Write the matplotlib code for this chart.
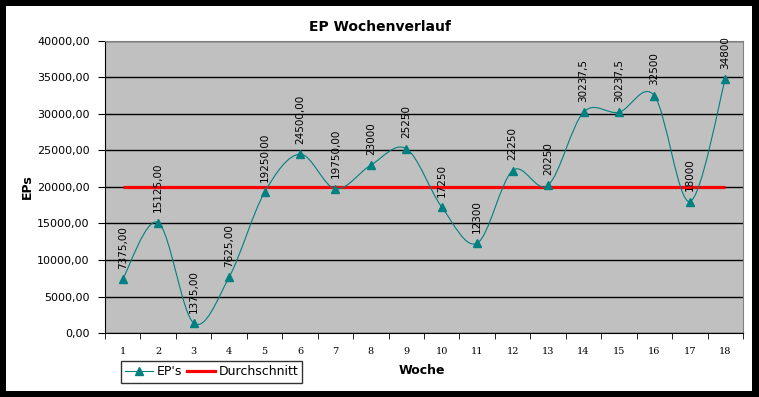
import matplotlib.pyplot as plt
import numpy as np
from matplotlib.patches import Rectangle
from matplotlib.path import Path
from matplotlib.patches import PathPatch
from matplotlib.ticker import FuncFormatter, MultipleLocator

# Daten
wochen = list(range(1, 19))
eps = [7375, 15125, 1375, 7625, 19250, 24500, 19750, 23000, 25250,
       17250, 12300, 22250, 20250, 30237.5, 30237.5, 32500, 18000, 34800]
eps_labels = ['7375,00', '15125,00', '1375,00', '7625,00', '19250,00', '24500,00',
              '19750,00', '23000', '25250', '17250', '12300', '22250', '20250',
              '30237,5', '30237,5', '32500', '18000', '34800']
durchschnitt = 20059.72

teal = '#008080'
W, H = 759, 397

fig = plt.figure(figsize=(W / 100, H / 100), dpi=100)
fig.patch.set_facecolor('black')
fig.patches.append(Rectangle((6 / W, 1 - 391 / H), 746 / W, 385 / H,
                             transform=fig.transFigure, facecolor='white',
                             edgecolor='none', zorder=-10))

ax = fig.add_axes([105 / W, 1 - 333 / H, 638 / W, 292 / H])
ax.set_facecolor('#c0c0c0')
ax.set_xlim(0.5, 18.5)
ax.set_ylim(0, 40000)

# Gitter
ax.yaxis.set_major_locator(MultipleLocator(5000))
ax.grid(axis='y', color='black', linewidth=1)
ax.set_axisbelow(True)

# geglaettete Linie (Bezier wie in Excel)
x = np.array(wochen, dtype=float)
y = np.array(eps, dtype=float)
n = len(x)
verts = [(x[0], y[0])]
codes = [Path.MOVETO]
for i in range(n - 1):
    p0 = np.array([x[max(i - 1, 0)], y[max(i - 1, 0)]])
    p1 = np.array([x[i], y[i]])
    p2 = np.array([x[i + 1], y[i + 1]])
    p3 = np.array([x[min(i + 2, n - 1)], y[min(i + 2, n - 1)]])
    c1 = p1 + (p2 - p0) / 6
    c2 = p2 - (p3 - p1) / 6
    verts += [tuple(c1), tuple(c2), tuple(p2)]
    codes += [Path.CURVE4] * 3
ax.add_patch(PathPatch(Path(verts, codes), facecolor='none', edgecolor=teal,
                       linewidth=0.8, zorder=3))
ax.plot(wochen, eps, linestyle='none', marker='^', color=teal, markersize=5.5, zorder=4)

ax.plot([wochen[0], wochen[-1]], [durchschnitt, durchschnitt], color='red',
        linewidth=2.3, zorder=2, solid_capstyle='butt')

for xi, yi, lab in zip(wochen, eps, eps_labels):
    ax.annotate(lab, (xi, yi), xytext=(0, 7.5), textcoords='offset points',
                rotation=90, ha='center', va='bottom', fontsize=7.5, zorder=5)

# Achsen
for side in ['top', 'right']:
    ax.spines[side].set_color('gray')
ax.spines['left'].set_color('black')
ax.spines['bottom'].set_color('black')

ax.set_xticks(wochen)
ax.set_xticklabels([str(w) for w in wochen], family='DejaVu Serif', fontsize=7)
ax.set_xticks(np.arange(0.5, 19, 1), minor=True)
ax.tick_params(axis='x', which='major', length=0, pad=10)
ax.tick_params(axis='x', which='minor', length=4, direction='out', color='black')
ax.tick_params(axis='y', length=5, direction='out', labelsize=8, pad=6)
ax.yaxis.set_major_formatter(FuncFormatter(lambda v, p: '%d,00' % v))

fig.text(380 / W, 1 - 27 / H, 'EP Wochenverlauf', ha='center', va='center',
         fontsize=10, fontweight='bold')
fig.text(27 / W, 1 - 187 / H, 'EPs', ha='center', va='center', rotation=90,
         fontsize=9, fontweight='bold')
fig.text(422 / W, 1 - 371 / H, 'Woche', ha='center', va='center',
         fontsize=9, fontweight='bold')

h1, = ax.plot([], [], color=teal, marker='^', markersize=5.5, linewidth=0.8)
h2, = ax.plot([], [], color='red', linewidth=2.3)
leg = fig.legend([h1, h2], ["EP's", 'Durchschnitt'], loc='upper left',
                 bbox_to_anchor=(121 / W, 1 - 361 / H), ncol=2, fontsize=9,
                 frameon=True, fancybox=False, edgecolor='black',
                 borderaxespad=0, handlelength=2.2, columnspacing=0.4,
                 handletextpad=0.3, borderpad=0.35)
leg.get_frame().set_linewidth(1)

plt.savefig('out.png', dpi=100, facecolor=fig.get_facecolor())
